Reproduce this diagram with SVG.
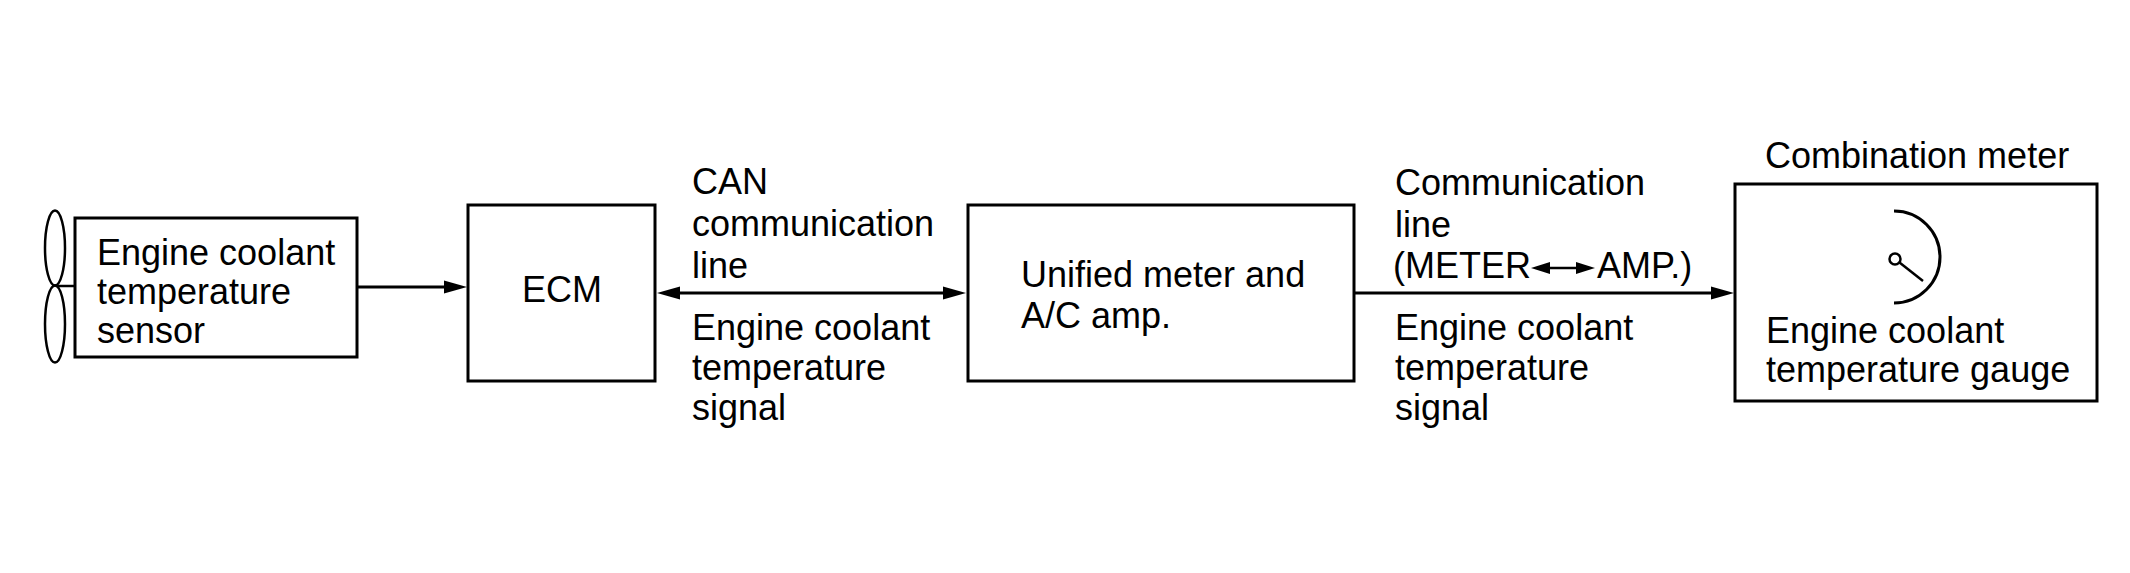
<svg xmlns="http://www.w3.org/2000/svg" width="2130" height="573" viewBox="0 0 2130 573">
<style>
.box{fill:#fff;stroke:#000;stroke-width:3}
.ln{fill:none;stroke:#000;stroke-width:3}
.t{font-family:"Liberation Sans",Arial,Helvetica,sans-serif;font-size:36px;fill:#000}
.mid{text-anchor:middle}
</style>
<defs>
<marker id="arr" markerUnits="userSpaceOnUse" markerWidth="24" markerHeight="14" refX="6" refY="7" orient="auto-start-reverse">
<path d="M0,0.5 L23,7 L0,13.5 z" fill="#000"/>
</marker>
<marker id="sarr" markerUnits="userSpaceOnUse" markerWidth="20" markerHeight="13" refX="4" refY="6.5" orient="auto-start-reverse">
<path d="M0,0.5 L19,6.5 L0,12.5 z" fill="#000"/>
</marker>
</defs>
<rect width="2130" height="573" fill="#fff"/>

<g id="sensor">
<ellipse class="ln" cx="55" cy="248" rx="10" ry="37.5" style="stroke-width:2.5"/>
<ellipse class="ln" cx="55" cy="324" rx="10" ry="38.5" style="stroke-width:2.5"/>
<line class="ln" x1="57" y1="286" x2="75" y2="286" style="stroke-width:2.5"/>
<rect class="box" x="75" y="218" width="282" height="139"/>
<text class="t" x="97" y="265">Engine coolant</text>
<text class="t" x="97" y="304">temperature</text>
<text class="t" x="97" y="343">sensor</text>
</g>

<g id="ecm">
<rect class="box" x="468" y="205" width="187" height="176"/>
<text class="t mid" x="562" y="302">ECM</text>
</g>

<g id="unified">
<rect class="box" x="968" y="205" width="386" height="176"/>
<text class="t" x="1021" y="287">Unified meter and</text>
<text class="t" x="1021" y="328">A/C amp.</text>
</g>

<g id="combination-meter">
<text class="t" x="1765" y="168">Combination meter</text>
<rect class="box" x="1735" y="184" width="362" height="217"/>
<path class="ln" d="M1894,211 A46,46 0 0 1 1894,303"/>
<circle cx="1895" cy="259" r="5.5" fill="none" stroke="#000" stroke-width="2.5"/>
<line class="ln" x1="1899.5" y1="262.5" x2="1923" y2="281" style="stroke-width:2.5"/>
<text class="t" x="1766" y="343">Engine coolant</text>
<text class="t" x="1766" y="382">temperature gauge</text>
</g>

<g id="connectors">
<line class="ln" x1="357" y1="287" x2="450" y2="287" marker-end="url(#arr)"/>
<line class="ln" x1="674" y1="293" x2="949" y2="293" marker-start="url(#arr)" marker-end="url(#arr)"/>
<line class="ln" x1="1354" y1="293" x2="1717" y2="293" marker-end="url(#arr)"/>
</g>

<g id="can-label">
<text class="t" x="692" y="194">CAN</text>
<text class="t" x="692" y="236">communication</text>
<text class="t" x="692" y="278">line</text>
<text class="t" x="692" y="340">Engine coolant</text>
<text class="t" x="692" y="380">temperature</text>
<text class="t" x="692" y="420">signal</text>
</g>

<g id="comm-label">
<text class="t" x="1395" y="195">Communication</text>
<text class="t" x="1395" y="237">line</text>
<text class="t" x="1393" y="278">(METER</text>
<line x1="1546" y1="268" x2="1580" y2="268" stroke="#000" stroke-width="2.5" marker-start="url(#sarr)" marker-end="url(#sarr)"/>
<text class="t" x="1597" y="278">AMP.)</text>
<text class="t" x="1395" y="340">Engine coolant</text>
<text class="t" x="1395" y="380">temperature</text>
<text class="t" x="1395" y="420">signal</text>
</g>
</svg>
